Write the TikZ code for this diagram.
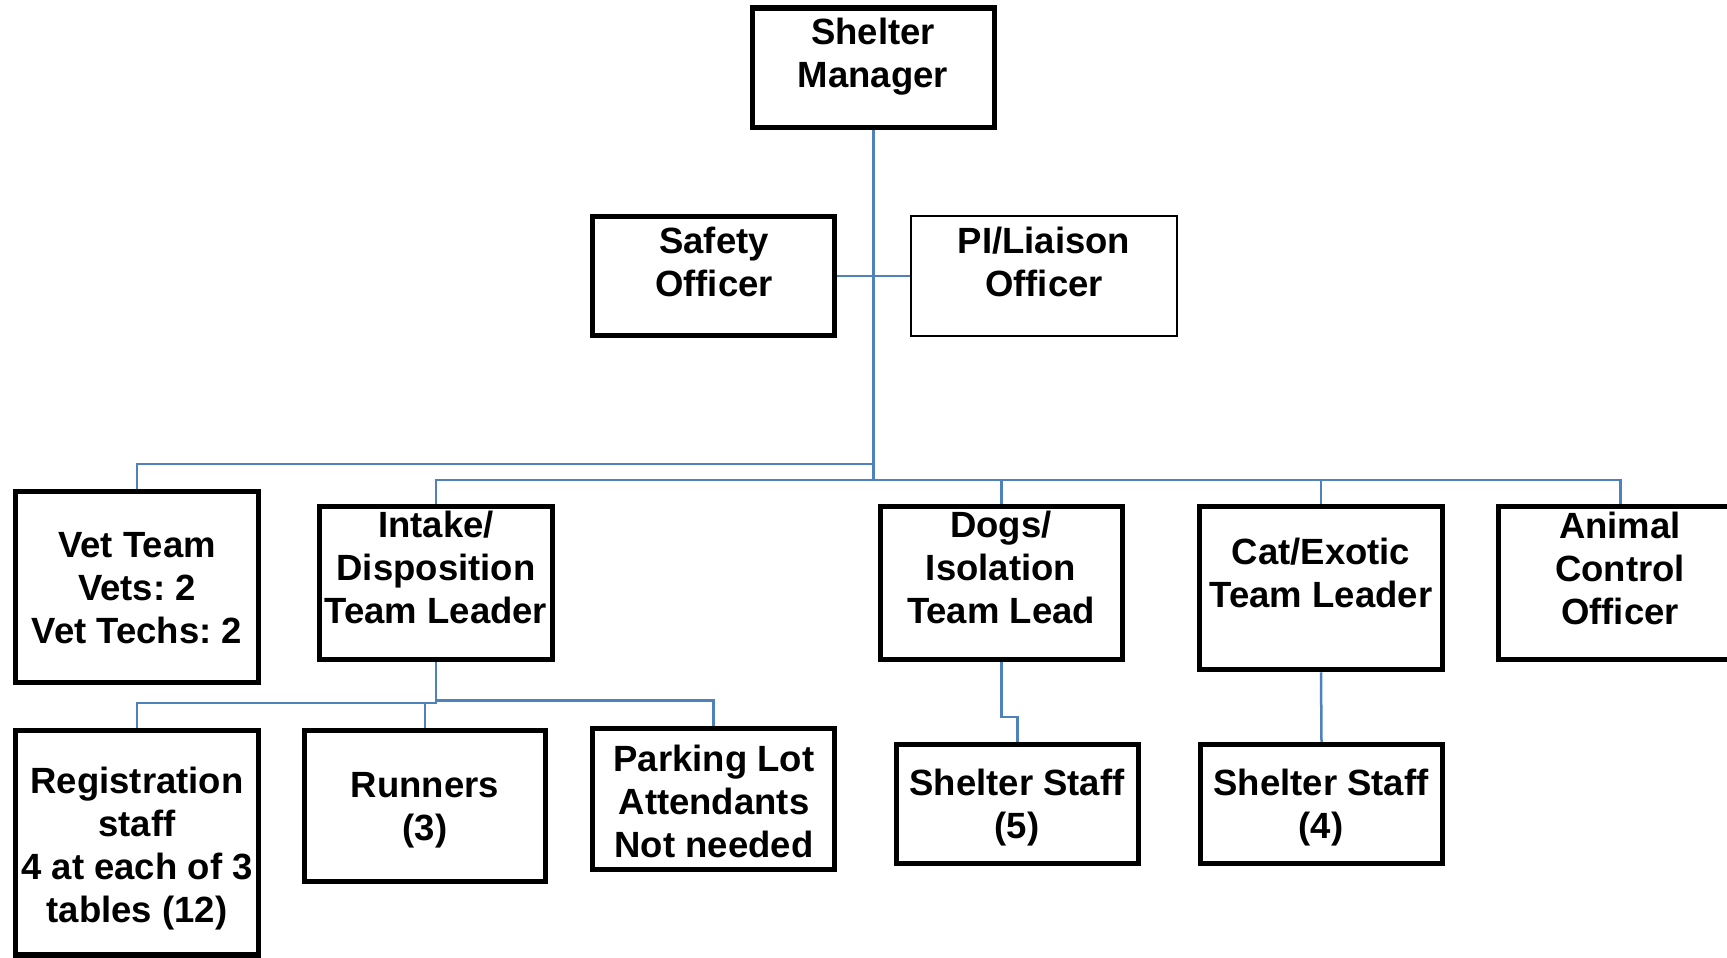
\documentclass[tikz,border=0pt]{standalone}
\usepackage{fontspec}
\setmainfont{Liberation Sans}
\frenchspacing
\definecolor{connblue}{HTML}{4F81BD}
\tikzset{
  box/.style={draw=black, line width=5.5pt, inner sep=0pt, fill=white},
  thinbox/.style={draw=black, line width=1.8pt, inner sep=0pt, fill=white},
  lbl/.style={align=center, inner sep=0pt, font=\fontsize{36.5}{43}\selectfont\bfseries},
  conn/.style={draw=connblue, line width=2.5pt}
}
\begin{document}
\begin{tikzpicture}[x=1pt,y=-1pt]
\useasboundingbox (0,0) rectangle (1727,958);
\clip (0,0) rectangle (1727,958);
% boxes
\node[box, minimum width=242pt, minimum height=119.5pt] (sm) at (873.5,67.75) {};
\node[box, minimum width=242pt, minimum height=119pt] (so) at (713.5,276) {};
\node[thinbox, minimum width=266pt, minimum height=120pt] (pi) at (1044,276) {};
\node[box, minimum width=243pt, minimum height=191pt] (vet) at (137,587) {};
\node[box, minimum width=233pt, minimum height=153pt] (intake) at (436,583) {};
\node[box, minimum width=242pt, minimum height=153pt] (dogs) at (1001.5,583) {};
\node[box, minimum width=243pt, minimum height=163pt] (cat) at (1321,588) {};
\node[box, minimum width=244pt, minimum height=153pt] (aco) at (1620.5,583) {};
\node[box, minimum width=243pt, minimum height=224.5pt] (reg) at (137,842.75) {};
\node[box, minimum width=241pt, minimum height=151pt] (run) at (425,806) {};
\node[box, minimum width=242pt, minimum height=141pt] (park) at (713.5,799) {};
\node[box, minimum width=242pt, minimum height=119pt] (ssa) at (1017.5,804) {};
\node[box, minimum width=242pt, minimum height=119pt] (ssb) at (1321.5,804) {};
% connectors
\coordinate (b1) at (873.5,464);
\coordinate (b2) at (873.5,480);
\coordinate (ib) at (436,703);
\coordinate (ib2) at (436,700.5);
\coordinate (db) at (1001.5,717);
\draw[conn] (sm.south) -- (b2);
\draw[conn] (so.east) -- (pi.west);
\draw[conn] (b1) -| (vet.north);
\draw[conn] (intake.north) |- (b2) -| (aco.north);
\draw[conn] (b2) -| (dogs.north);
\draw[conn] (b2) -| (cat.north);
\draw[conn] (intake.south) -- (ib) -| (reg.north);
\draw[conn] (ib) -| (run.north);
\draw[conn] (ib2) -| (park.north);
\draw[conn] (dogs.south) -- (db) -| (ssa.north);
\draw[conn] (cat.south) -- (ssb.north);
% labels
\node[lbl] (smt) at (873,57) {Shelter\\Manager};
\node[lbl] (sot) at (714,262) {Safety\\Officer};
\node[lbl] (pit) at (1044,262) {PI/Liaison\\Officer};
\node[lbl] (vett) at (137,588) {Vet Team\\Vets: 2\\Vet Techs: 2};
\node[lbl] (intt) at (436,567) {Intake/\\Disposition\\Team Leader};
\node[lbl] (dogst) at (1001,567) {Dogs/\\Isolation\\Team Lead};
\node[lbl] (catt) at (1321,573) {Cat/Exotic\\Team Leader};
\node[lbl] (acot) at (1620,568) {Animal\\Control\\Officer};
\node[lbl] (regt) at (137,849) {Registration\\staff\\4 at each of 3\\tables (12)};
\node[lbl] (runt) at (425,810) {Runners\\(3)};
\node[lbl] (parkt) at (714,801) {Parking Lot\\Attendants\\Not needed};
\node[lbl] (ssat) at (1017,808) {Shelter Staff\\(5)};
\node[lbl] (ssbt) at (1321,808) {Shelter Staff\\(4)};
\end{tikzpicture}
\end{document}
